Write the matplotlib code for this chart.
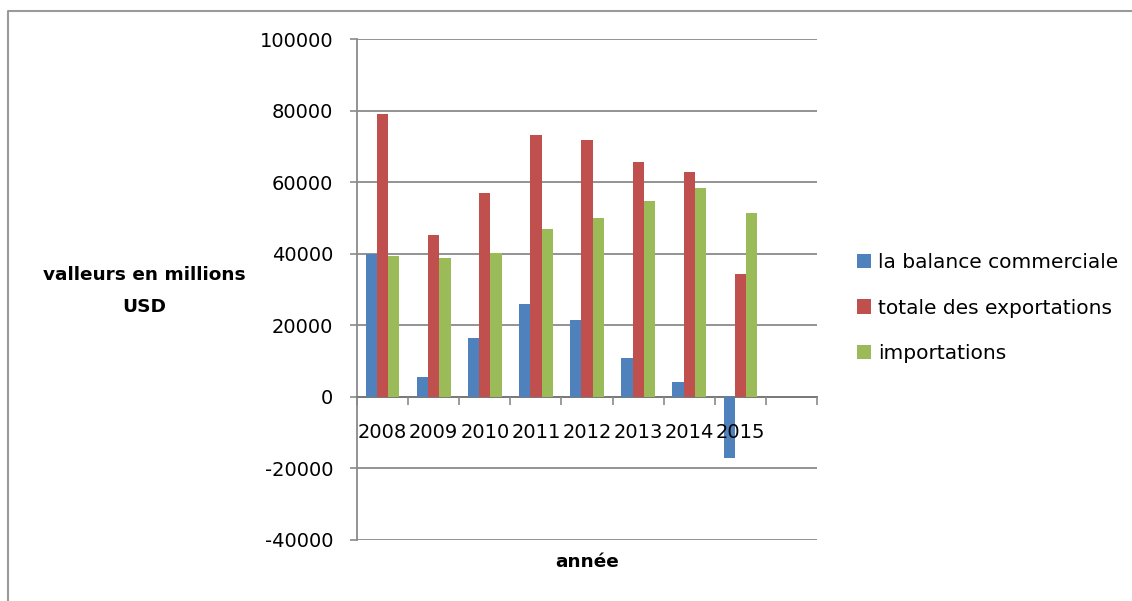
import matplotlib.pyplot as plt
from matplotlib.lines import Line2D
import numpy as np

years = ["2008", "2009", "2010", "2011", "2012", "2013", "2014", "2015"]
balance = [39900, 5600, 16400, 26000, 21400, 10800, 4100, -17200]
exports = [79100, 45200, 57000, 73400, 71800, 65600, 62800, 34500]
imports = [39300, 39000, 40300, 47000, 50100, 54700, 58400, 51600]

series_labels = ["la balance commerciale", "totale des exportations", "importations"]
colors = ["#4F81BD", "#C0504D", "#9BBB59"]
grid_color = "#8a8a8a"

plt.rcParams["font.family"] = "DejaVu Sans"

fig = plt.figure(figsize=(11.32, 6.01), dpi=100)
ax = fig.add_axes([0.3154, 0.1015, 0.4064, 0.8328])

# one empty slot is left after the last year
n_slots = len(years) + 1
x = np.arange(len(years))
w = 0.22
for i, vals in enumerate([balance, exports, imports]):
    ax.bar(x + (i - 1) * w, vals, width=w, color=colors[i], label=series_labels[i], zorder=3)

ax.set_xlim(-0.5, n_slots - 0.5)
ax.set_ylim(-40000, 100000)
ax.set_yticks(np.arange(-40000, 100001, 20000))
ax.set_yticklabels([str(v) for v in range(-40000, 100001, 20000)])
ax.yaxis.grid(True, color=grid_color, linewidth=1.3)

# category labels in the middle of each slot, tick marks on the slot edges
ax.set_xticks(x)
ax.set_xticklabels(years)
ax.set_xticks(np.arange(-0.5, n_slots, 1), minor=True)
ax.tick_params(axis="x", which="major", length=0, pad=19, labelsize=14)
ax.tick_params(axis="x", which="minor", length=6, width=1.2, color=grid_color, direction="out")
ax.tick_params(axis="y", length=5, width=1.2, color=grid_color, pad=12, labelsize=14)

# gridlines behind the bars, year labels on top of them
ax.yaxis.set_zorder(0.5)
ax.xaxis.set_zorder(5)

ax.spines["bottom"].set_position(("data", 0))
ax.spines["bottom"].set_color("#7a7a7a")
ax.spines["bottom"].set_linewidth(1.4)
ax.spines["left"].set_color(grid_color)
ax.spines["left"].set_linewidth(1.3)
ax.spines["top"].set_visible(False)
ax.spines["right"].set_visible(False)

fig.text(144 / 1132, 1 - 291 / 601, "valleurs en millions\nUSD", ha="center", va="center",
         fontsize=13.3, fontweight="bold", linespacing=2.0)
fig.text(587 / 1132, 1 - 562 / 601, "année", ha="center", va="center",
         fontsize=13.3, fontweight="bold")

fig.legend(loc="center left", bbox_to_anchor=(857 / 1132, 1 - 308 / 601), frameon=False,
           fontsize=14.5, borderpad=0, borderaxespad=0, handlelength=0.7, handleheight=0.7,
           handletextpad=0.35, labelspacing=1.33)

# outer chart frame
fx = 8 / 1132
fy = 1 - 11 / 601
fig.add_artist(Line2D([fx, fx, 1.0], [0.0, fy, fy], transform=fig.transFigure,
                      color="#9a9a9a", linewidth=1.5))

fig.savefig("out.png", dpi=100)
